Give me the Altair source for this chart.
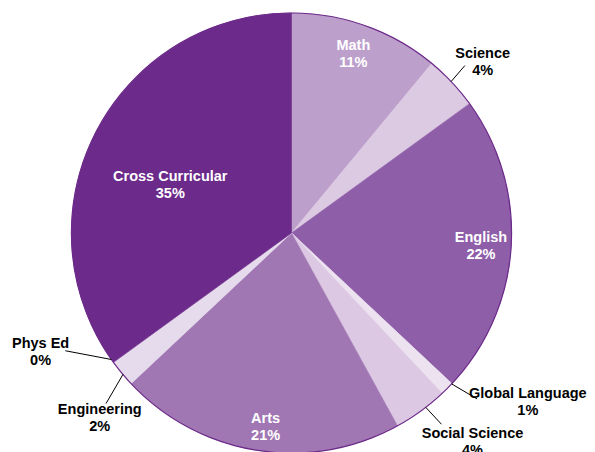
import math
import altair as alt
import pandas as pd

# ---- data ----
categories = ["Math", "Science", "English", "Global Language", "Social Science",
              "Arts", "Engineering", "Phys Ed", "Cross Curricular"]
values = [11, 4, 22, 1, 4, 21, 2, 0, 35]
pct_labels = ["11%", "4%", "22%", "1%", "4%", "21%", "2%", "0%", "35%"]
colors = ["#bd9fcc", "#dccae3", "#8f5ea8", "#ece2f0", "#dcc8e2",
          "#a077b3", "#e6daed", "#e6daed", "#6c2a8a"]
inside = [True, False, True, False, False, True, False, False, True]

# ---- label layout (polar, relative to each slice's mid-angle) ----
label_radius = [189, 256, 190, 291, 277, 196, 267, 278, 130]
label_angle_off = [-0.7, 1.5, 0.6, -9.3, -4.8, -1.4, -4.5, 10.5, -5.8]
leader_start_off = [0, -0.3, 0, -1.7, -1.6, -0.4, -0.4, 0.9, 0]
leader_end_off = [0, -0.8, 0, -3.2, -2.1, 0, -3.0, 8.5, 0]
leader_end_r = [0, 241, 0, 249, 243, 0, 252, 255, 0]

W, H = 567, 450
CX, CY = W / 2, H / 2
R = 220

total = sum(values)
cum = 0
mids = []
for v in values:
    mids.append((cum + v / 2) / total * 360)
    cum += v


def polar(angle_deg, r):
    a = math.radians(angle_deg)
    return CX + r * math.sin(a), CY - r * math.cos(a)


rows = []
lead = []
for i, c in enumerate(categories):
    lx, ly = polar(mids[i] + label_angle_off[i], label_radius[i])
    rows.append({
        "cat": c, "value": values[i], "idx": i,
        "label": f"{c}\n{pct_labels[i]}",
        "lx": lx, "ly": ly,
        "tcol": "#ffffff" if inside[i] else "#000000",
    })
    if not inside[i]:
        x1, y1 = polar(mids[i] + leader_start_off[i], R)
        x2, y2 = polar(mids[i] + leader_end_off[i], leader_end_r[i])
        lead.append({"x": x1, "y": y1, "x2": x2, "y2": y2})

df = pd.DataFrame(rows)
lead_df = pd.DataFrame(lead)

color_scale = alt.Scale(domain=categories, range=colors)

slices = alt.Chart(df).mark_arc(radius=R, strokeWidth=0.6).encode(
    theta=alt.Theta("value:Q", stack=True),
    order=alt.Order("idx:Q"),
    color=alt.Color("cat:N", scale=color_scale, legend=None),
    stroke=alt.Stroke("cat:N", scale=color_scale, legend=None),
)

outline = alt.Chart(pd.DataFrame({"a": [0]})).mark_arc(
    radius=R, filled=False, stroke="#6c2a8a", strokeWidth=1.2
).encode(theta=alt.value(0), theta2=alt.value(2 * math.pi))

leaders = alt.Chart(lead_df).mark_rule(color="#000000", strokeWidth=1).encode(
    x=alt.X("x:Q", scale=None), y=alt.Y("y:Q", scale=None),
    x2="x2:Q", y2="y2:Q",
)

labels = alt.Chart(df).mark_text(
    font="Liberation Sans", fontWeight="bold", fontSize=14.5, lineHeight=17,
    lineBreak="\n", align="center", baseline="middle", dy=-8.5
).encode(
    x=alt.X("lx:Q", scale=None), y=alt.Y("ly:Q", scale=None),
    text="label:N",
    color=alt.Color("tcol:N", scale=None),
)

chart = alt.layer(slices, outline, leaders, labels).properties(
    width=W, height=H,
    autosize=alt.AutoSizeParams(type="none"),
    padding={"left": 0, "top": 0, "right": 12, "bottom": 0},
).configure_view(stroke=None)

chart.save("out.html", embed_options={"renderer": "svg", "actions": False})
